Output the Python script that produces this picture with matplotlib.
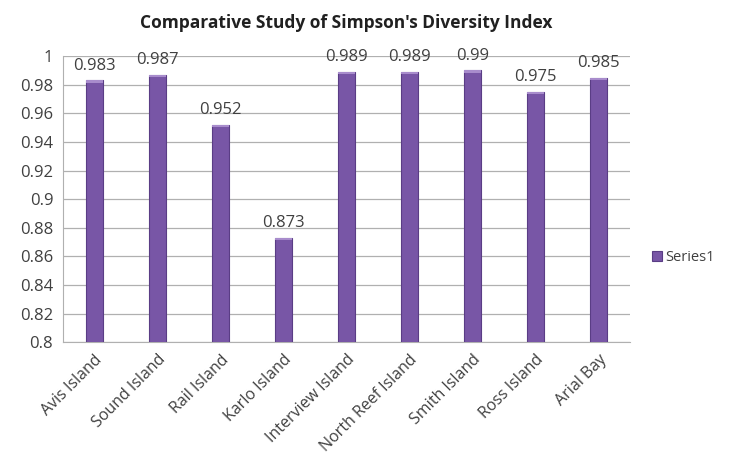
import matplotlib.pyplot as plt
import numpy as np

sites = ['Avis Island', 'Sound Island', 'Rail Island', 'Karlo Island',
         'Interview Island', 'North Reef Island', 'Smith Island', 'Ross Island', 'Arial Bay']
index_values = [0.983, 0.987, 0.952, 0.873, 0.989, 0.989, 0.99, 0.975, 0.985]
value_labels = ['0.983', '0.987', '0.952', '0.873', '0.989', '0.989', '0.99', '0.975', '0.985']
y_ticks = [0.8, 0.82, 0.84, 0.86, 0.88, 0.9, 0.92, 0.94, 0.96, 0.98, 1.0]
y_tick_labels = ['0.8', '0.82', '0.84', '0.86', '0.88', '0.9', '0.92', '0.94', '0.96', '0.98', '1']

plt.rcParams['font.family'] = ['Open Sans', 'DejaVu Sans']

fig = plt.figure(figsize=(7.31, 4.68), dpi=100)
ax = fig.add_axes([0.086, 0.269, 0.776, 0.611])

x = np.arange(len(sites))
bars = ax.bar(x, index_values, width=0.27, color='#7856a6', edgecolor='#5a3d85',
              linewidth=0.8, label='Series1', zorder=3)
# lighter cap on top of each bar
ax.bar(x, [0.0015] * len(sites), bottom=np.array(index_values) - 0.0015, width=0.27,
       color='#a88ccc', linewidth=0, zorder=4)

for xi, v, lab in zip(x, index_values, value_labels):
    ax.annotate(lab, (xi, v), xytext=(0, 5), textcoords='offset points',
                ha='center', va='bottom', fontsize=12, color='#404040', zorder=5)

ax.set_xlim(-0.5, len(sites) - 0.5)
ax.set_ylim(0.8, 1.0)
ax.set_yticks(y_ticks)
ax.set_yticklabels(y_tick_labels, fontsize=12, color='#404040')
ax.set_xticks(x)
ax.set_xticklabels(sites, rotation=45, ha='right', rotation_mode='anchor',
                   fontsize=11.5, color='#404040')
ax.tick_params(length=0, pad=7)
ax.grid(axis='y', color='#b0b0b0', linewidth=0.9, zorder=0)
for s in ['top', 'right']:
    ax.spines[s].set_visible(False)
ax.spines['left'].set_color('#b0b0b0')
ax.spines['bottom'].set_color('#b0b0b0')

ax.set_title("Comparative Study of Simpson's Diversity Index", fontsize=12.5,
             fontweight='bold', color='#202020', pad=20)

leg = fig.legend(handles=[bars], labels=['Series1'], loc='center left',
                 bbox_to_anchor=(0.88, 0.449), frameon=False, fontsize=10.5,
                 handlelength=0.7, handleheight=0.7, handletextpad=0.2,
                 borderaxespad=0.2)
for t in leg.get_texts():
    t.set_color('#404040')

fig.savefig('out.png', dpi=100)
